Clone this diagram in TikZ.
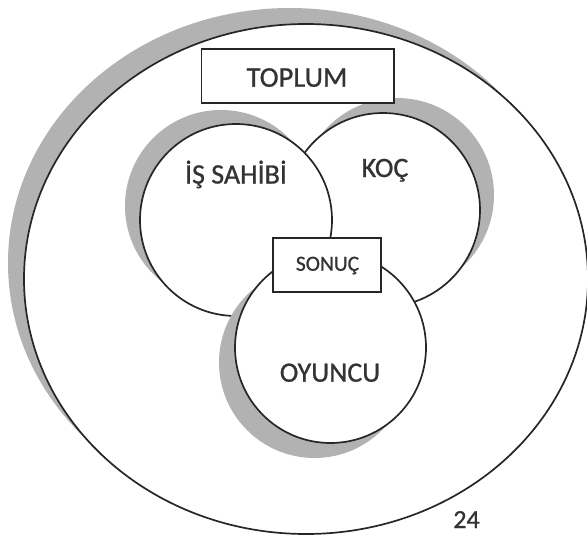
\documentclass[tikz,border=0pt]{standalone}
\usepackage{fontspec}
\setmainfont{Carlito}
\newfontfamily\heavyfont[FakeBold=0.9]{Carlito}
\begin{document}
\begin{tikzpicture}[x=1pt,y=-1pt,
  outline/.style={draw=black!85, line width=1.7pt, fill=white},
  shadowfill/.style={fill=black!30, draw=none},
  tag/.style={draw=black!85, line width=1.7pt, fill=white, inner sep=0pt},
  caption/.style={text=black!80, inner sep=0pt, anchor=base,
                  font=\heavyfont\fontsize{28}{30}\selectfont}]
\useasboundingbox (0,0) rectangle (587,535);

% society: the large surrounding ellipse with its drop shadow
\fill[shadowfill] (290,263) ellipse [x radius=282pt, y radius=255pt];
\draw[outline] (306,279) ellipse [x radius=282pt, y radius=255pt];

% coach
\fill[shadowfill] (397,195) circle [radius=97pt];
\draw[outline] (383,210) circle [radius=97pt];

% owner
\fill[shadowfill] (221,206) circle [radius=96pt];
\draw[outline] (236,220) circle [radius=96pt];

% player
\fill[shadowfill] (314.5,362.5) circle [radius=95.5pt];
\draw[outline] (330.5,347.5) circle [radius=95.5pt];

% label boxes
\node[tag, minimum width=108pt, minimum height=54pt] (resultbox) at (327,265) {};
\node[tag, minimum width=192.5pt, minimum height=54pt] (societybox) at (297.75,76) {};

% texts
\node[caption, font=\heavyfont\fontsize{28.5}{30}\selectfont] (society) at (297,86.7) {TOPLUM};
\node[caption] (owner) at (236,183.5) {İŞ SAHİBİ};
\node[caption] (coach) at (385,177) {KOÇ};
\node[caption] (player) at (330,381.7) {OYUNCU};
\node[caption, font=\heavyfont\fontsize{21.5}{24}\selectfont] (result) at (327.5,270.7) {SONUÇ};
\node[caption, font=\heavyfont\fontsize{26}{28}\selectfont] (pagenum) at (466.5,528) {24};
\end{tikzpicture}
\end{document}
